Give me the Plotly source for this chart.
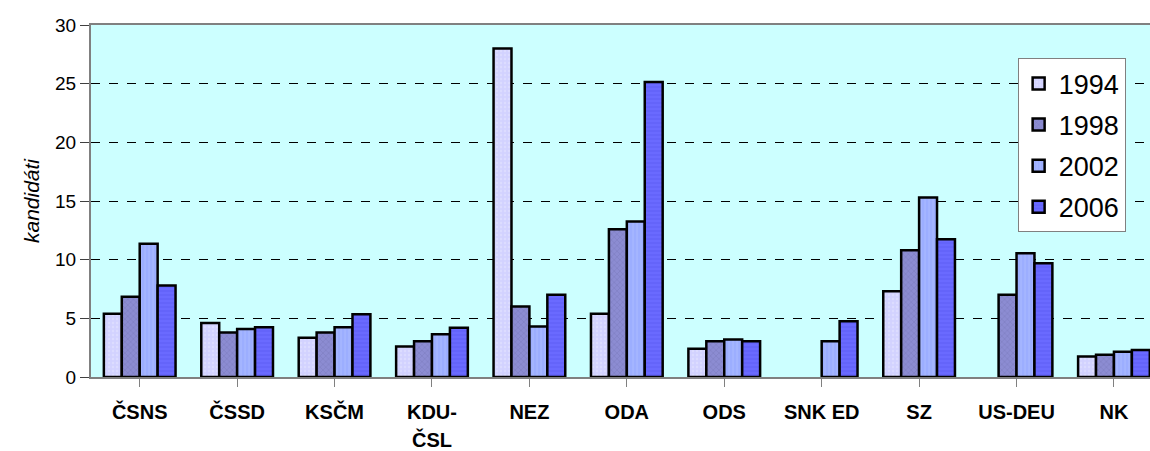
import plotly.graph_objects as go

categories = ["ČSNS", "ČSSD", "KSČM", "KDU-", "NEZ", "ODA", "ODS", "SNK ED", "SZ", "US-DEU", "NK"]
label_second_line = "ČSL"
years = ["1994", "1998", "2002", "2006"]
v1994 = [5.4, 4.6, 3.35, 2.6, 28.0, 5.4, 2.4, None, 7.3, None, 1.75]
v1998 = [6.85, 3.8, 3.8, 3.05, 6.0, 12.6, 3.05, None, 10.8, 7.0, 1.9]
v2002 = [11.35, 4.1, 4.25, 3.65, 4.3, 13.25, 3.2, 3.05, 15.3, 10.55, 2.15]
v2006 = [7.8, 4.25, 5.35, 4.2, 7.0, 25.15, 3.05, 4.75, 11.75, 9.7, 2.3]
series = [v1994, v1998, v2002, v2006]

colors = ["#D2D2FF", "#8C8CD2", "#9CAEFF", "#6A6AFF"]
pat_fg = ["#E6E6FF", "#7070B0", "#B4C4FF", "#5555EE"]
shapes = [".", "x", "|", "-"]

fig = go.Figure()
for i, (y, vals) in enumerate(zip(years, series)):
    fig.add_trace(go.Bar(
        x=list(range(len(categories))), y=vals, name=y,
        legendgroup=y,
        marker=dict(color=colors[i], line=dict(color="black", width=2.5),
                    pattern=dict(shape=shapes[i], fgcolor=pat_fg[i], size=4, solidity=0.3)),
    ))

fig.add_annotation(x=3, y=0, xref="x", yref="paper", yshift=-62, yanchor="middle",
                   text="<b>" + label_second_line + "</b>", showarrow=False,
                   font=dict(size=20, family="Arial, Liberation Sans"))

fig.update_layout(
    width=1150, height=451,
    margin=dict(l=91, r=0, t=25, b=74),
    paper_bgcolor="white", plot_bgcolor="#CCFFFF",
    barmode="group", bargap=0.264, bargroupgap=0,
    font=dict(family="Arial, Liberation Sans", color="black"),
    legend=dict(x=0.875, y=0.905, xanchor="left", yanchor="top",
                bgcolor="white", bordercolor="#808080", borderwidth=1,
                font=dict(size=27), tracegroupgap=3, traceorder="grouped"),
    showlegend=True,
)
fig.update_xaxes(
    tickmode="array", tickvals=list(range(len(categories))),
    ticktext=["<b>" + c + "</b>" for c in categories],
    range=[-0.5, 10.37], tickson="boundaries", ticks="outside", ticklen=8,
    tickcolor="#808080", showline=True, linecolor="#808080", linewidth=2, mirror=True,
    tickfont=dict(size=20, family="Arial, Liberation Sans"), showgrid=False,
    ticklabelstandoff=8,
)
fig.update_yaxes(
    range=[0, 30], dtick=5, ticks="outside", ticklen=9, tickcolor="#404040",
    showline=True, linecolor="#808080", linewidth=2,
    showgrid=True, gridcolor="black", griddash="dash", gridwidth=1,
    tickfont=dict(size=19), zeroline=False,
    title=dict(text="<i>kandidáti</i>", font=dict(size=21), standoff=10),
)
fig.write_html("out.html", config={"displayModeBar": False},
               post_script="document.body.style.margin='0';")
